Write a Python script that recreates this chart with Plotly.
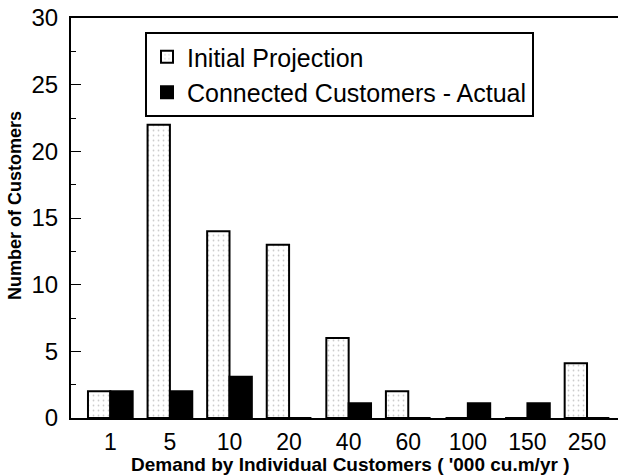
import plotly.graph_objects as go

categories = ["1", "5", "10", "20", "40", "60", "100", "150", "250"]
initial_projection = [2, 22, 14, 13, 6, 2, 0, 0, 4.1]
connected_actual = [2, 2, 3.1, 0, 1.1, 0, 1.1, 1.1, 0]
y_ticks = [0, 5, 10, 15, 20, 25, 30]

FONT = "Liberation Sans, Arial, sans-serif"
L, T, B = 71, 18, 58
PW, PH = 618 - L, 476 - T - B

fig = go.Figure()
fig.add_trace(go.Bar(
    x=categories, y=initial_projection, name="Initial Projection",
    marker=dict(color="white", line=dict(color="black", width=2),
                pattern=dict(shape=".", fgcolor="#9a9a9a", bgcolor="white",
                             size=5, solidity=0.1)),
))
fig.add_trace(go.Bar(
    x=categories, y=connected_actual, name="Connected Customers - Actual",
    marker=dict(color="black", line=dict(color="black", width=2)),
))

fig.update_layout(
    width=618, height=476,
    margin=dict(l=L, r=0, t=T, b=B, autoexpand=False),
    paper_bgcolor="white", plot_bgcolor="white",
    barmode="group", bargap=0.25, bargroupgap=0,
    font=dict(family=FONT, color="black", size=24),
    showlegend=True,
    legend=dict(
        x=(145 - L) / PW, y=(418 - 32) / PH, xanchor="left", yanchor="top",
        bgcolor="white", bordercolor="black", borderwidth=2,
        font=dict(family=FONT, size=25, color="black"),
        itemwidth=30, tracegroupgap=0,
    ),
    xaxis=dict(
        type="category", range=[-0.66, 8.52],
        showline=True, linecolor="black", linewidth=2, mirror=True,
        ticks="", showgrid=False, tickfont=dict(size=23),
        ticklabelstandoff=2,
    ),
    yaxis=dict(
        range=[0, 30], tickvals=y_ticks,
        showline=True, linecolor="black", linewidth=2, mirror=False,
        ticks="inside", ticklen=10, tickcolor="black", tickwidth=1,
        showgrid=False, zeroline=False, tickfont=dict(size=24),
        ticklabelstandoff=6,
        minor=dict(ticks="inside", ticklen=5, dtick=2.5, tickcolor="black",
                   tickwidth=1, showgrid=False),
    ),
    annotations=[
        dict(text="<b>Demand by Individual Customers ( '000 cu.m/yr )</b>",
             xref="paper", yref="paper", x=(350 - L) / PW, y=-(464 - 418) / PH,
             xanchor="center", yanchor="middle", showarrow=False,
             font=dict(size=19, family=FONT)),
        dict(text="<b>Number of Customers</b>", textangle=-90,
             xref="paper", yref="paper", x=-(L - 15) / PW, y=(418 - 206) / PH,
             xanchor="center", yanchor="middle", showarrow=False,
             font=dict(size=18, family=FONT)),
    ],
)

fig.write_html("out.html", config={"displayModeBar": False},
               post_script="document.body.style.margin='0px';")
